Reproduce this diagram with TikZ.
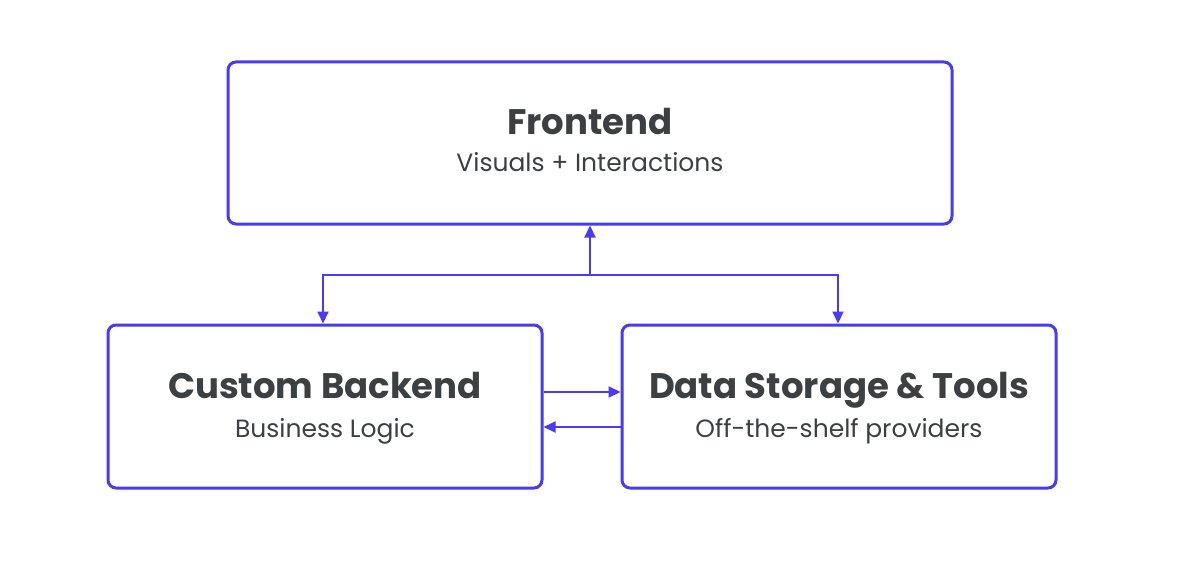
\documentclass[tikz,border=0pt]{standalone}
\usepackage{fontspec}
\setmainfont{Poppins}
\usetikzlibrary{positioning,arrows.meta}
\definecolor{edge}{HTML}{4A3AF0}
\definecolor{ink}{HTML}{3C4043}

\begin{document}
\begin{tikzpicture}[x=1pt, y=-1pt,
    block/.style={draw=edge, line width=3pt, rounded corners=8pt, fill=white, inner sep=0pt},
    head/.style={anchor=base, text=ink, inner sep=0pt, font=\fontsize{35.5}{40}\selectfont\bfseries},
    sub/.style={anchor=base, text=ink, inner sep=0pt, font=\fontsize{25}{30}\selectfont},
    link/.style={draw=edge, line width=2pt, -{Triangle[length=12pt, width=11pt]}},
  ]
    \useasboundingbox (0,0) rectangle (1180,588);

    % boxes
    \node[block, minimum width=724pt, minimum height=162pt] (front) at (590,143) {};
    \node[block, minimum width=434pt, minimum height=163pt] (back) at (325,406.5) {};
    \node[block, minimum width=434pt, minimum height=163pt] (store) at (839,406.5) {};

    % texts
    \node[head] (fronthead) at ([yshift=8pt]front.center) {Frontend};
    \node[sub] (frontsub) at ([yshift=-29pt]front.center) {Visuals + Interactions};
    \node[head] (backhead) at ([yshift=8.5pt]back.center) {Custom Backend};
    \node[sub] (backsub) at ([yshift=-30.5pt]back.center) {Business Logic};
    \node[head] (storehead) at ([yshift=8.5pt]store.center) {Data Storage \& Tools};
    \node[sub] (storesub) at ([yshift=-30.5pt]store.center) {Off-the-shelf providers};

    \coordinate (hub) at (590,275);

    \draw[link] (hub) -- (front.south);
    \draw[link] (hub) -| ([xshift=-2pt]back.north);
    \draw[link] (hub) -| ([xshift=-1pt]store.north);

    \draw[link] ([yshift=14.5pt]back.east) -- ([yshift=14.5pt]store.west);
    \draw[link] ([yshift=-20.5pt]store.west) -- ([yshift=-20.5pt]back.east);
  \end{tikzpicture}
\end{document}
